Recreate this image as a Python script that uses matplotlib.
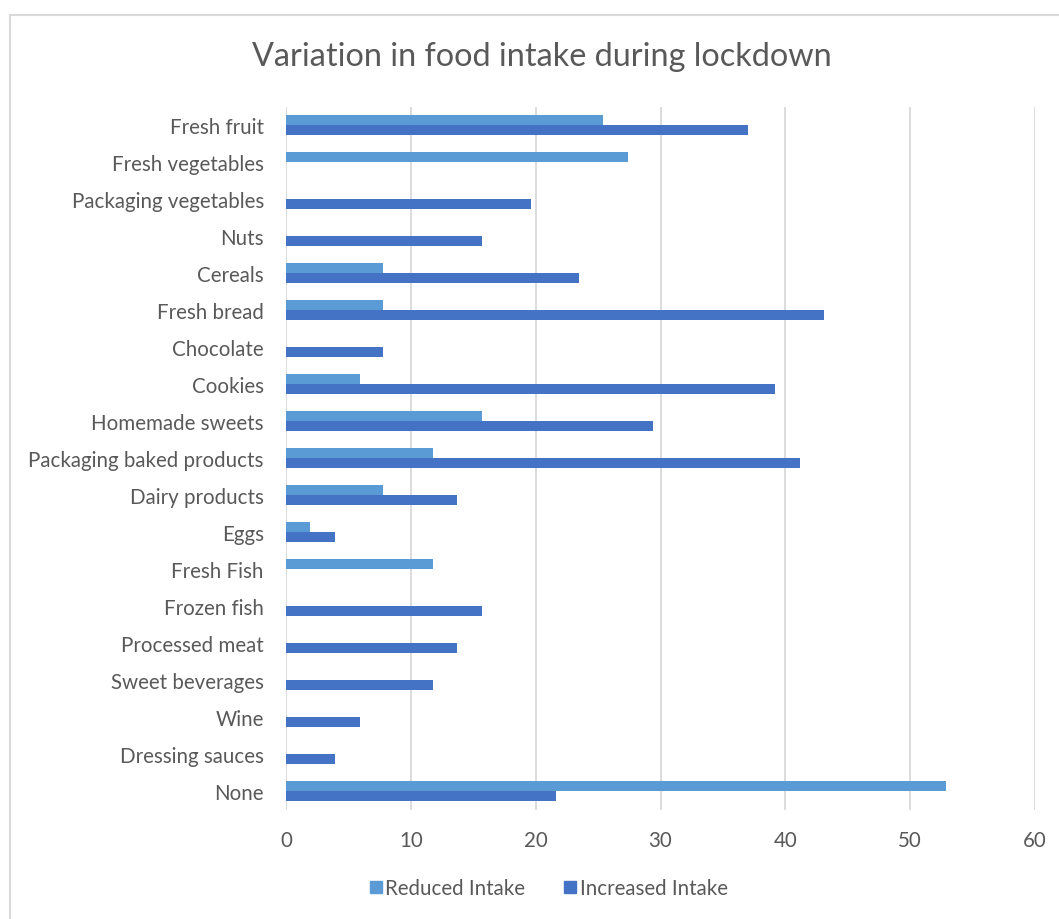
import matplotlib.pyplot as plt
import numpy as np
from matplotlib.lines import Line2D

plt.rcParams['font.family'] = ['Lato', 'DejaVu Sans']

categories = ['Fresh fruit', 'Fresh vegetables', 'Packaging vegetables', 'Nuts',
              'Cereals', 'Fresh bread', 'Chocolate', 'Cookies', 'Homemade sweets',
              'Packaging baked products', 'Dairy products', 'Eggs', 'Fresh Fish',
              'Frozen fish', 'Processed meat', 'Sweet beverages', 'Wine',
              'Dressing sauces', 'None']
reduced = [25.4, 27.4, 0, 0, 7.8, 7.8, 0, 5.9, 15.7, 11.8, 7.8, 1.9, 11.8,
           0, 0, 0, 0, 0, 52.9]
increased = [37.0, 0, 19.6, 15.7, 23.5, 43.1, 7.8, 39.2, 29.4, 41.2, 13.7, 3.9, 0,
             15.7, 13.7, 11.8, 5.9, 3.9, 21.6]
x_ticks = [0, 10, 20, 30, 40, 50, 60]

c_red = '#5B9BD5'
c_inc = '#4472C4'
txt = '#595959'

fig = plt.figure(figsize=(10.59, 9.2), dpi=100)
ax = fig.add_axes([286 / 1059, 1 - 810.5 / 920, 749 / 1059, 703 / 920])

y = np.arange(len(categories))
h = 0.28
ax.barh(y - h / 2, reduced, height=h, color=c_red, linewidth=0, zorder=3)
ax.barh(y + h / 2, increased, height=h, color=c_inc, linewidth=0, zorder=3)

ax.set_xlim(0, 60)
ax.set_ylim(len(categories) - 0.5, -0.5)
ax.set_xticks(x_ticks)
ax.set_yticks(y)
ax.set_yticklabels(categories)
ax.tick_params(axis='both', length=0, labelsize=14.8, labelcolor=txt)
ax.tick_params(axis='y', pad=16)
ax.tick_params(axis='x', pad=15)
ax.grid(axis='x', color='#D9D9D9', linewidth=1.3, zorder=0)
for s in ax.spines.values():
    s.set_visible(False)

fig.text(0.512, 0.938, 'Variation in food intake during lockdown',
         ha='center', va='center', fontsize=23.3, color=txt)

handles = [Line2D([], [], marker='s', linestyle='', markersize=9, color=c_red),
           Line2D([], [], marker='s', linestyle='', markersize=9, color=c_inc)]
fig.legend(handles, ['Reduced Intake', 'Increased Intake'], loc='center',
           bbox_to_anchor=(0.518, 1 - 889 / 920), ncol=2, frameon=False,
           fontsize=14.8, labelcolor=txt, handlelength=0.6, handletextpad=0.15,
           columnspacing=1.9)

# chart area border (top and left edges visible)
fig.add_artist(Line2D([9.5 / 1059, 1], [1 - 15.7 / 920] * 2, color='#D9D9D9', lw=1.5))
fig.add_artist(Line2D([9.5 / 1059] * 2, [0, 1 - 15.7 / 920], color='#D9D9D9', lw=1.5))

fig.savefig('out.png', dpi=100, facecolor='white')
